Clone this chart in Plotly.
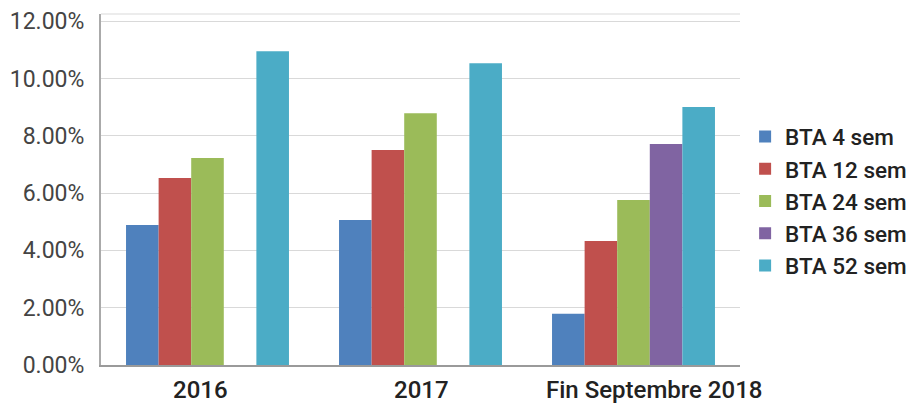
import plotly.graph_objects as go

categories = ["2016", "2017", "Fin Septembre 2018"]
series_names = ["BTA 4 sem", "BTA 12 sem", "BTA 24 sem", "BTA 36 sem", "BTA 52 sem"]
bta_4 = [0.0489, 0.0506, 0.0179]
bta_12 = [0.0653, 0.0750, 0.0433]
bta_24 = [0.0722, 0.0879, 0.0576]
bta_36 = [None, None, 0.0771]
bta_52 = [0.1095, 0.1053, 0.0900]
colors = ["#4F81BD", "#C0504D", "#9BBB59", "#8064A2", "#4BACC6"]
label_xshift = [-7, 1, 20]

fig = go.Figure()
for name, vals, col in zip(series_names, [bta_4, bta_12, bta_24, bta_36, bta_52], colors):
    fig.add_trace(go.Bar(x=categories, y=vals, name=name, marker_color=col, marker_line_width=0))

for i, (cat, dx) in enumerate(zip(categories, label_xshift)):
    fig.add_annotation(x=i, y=0, xref="x", yref="y", text=cat, showarrow=False,
                       xanchor="center", yanchor="middle", xshift=dx, yshift=-25,
                       font=dict(family="Roboto", size=24, color="#222", weight=500))

# light top border of the plot area
fig.add_shape(type="line", xref="paper", yref="paper", x0=0, x1=1, y0=1, y1=1,
              line=dict(color="#d9d9d9", width=1))

fig.update_layout(
    width=912, height=397,
    margin=dict(l=93, r=180, t=6, b=40, autoexpand=False),
    barmode="group", bargap=0.235, bargroupgap=0,
    plot_bgcolor="white", paper_bgcolor="white",
    font=dict(family="Roboto", color="#333"),
    legend=dict(x=1.008, xanchor="left", y=0.466, yanchor="middle",
                font=dict(family="Roboto", size=22.5, color="#222", weight=500),
                itemwidth=30, tracegroupgap=0),
    xaxis=dict(type="category", range=[-0.5, 2.5],
               showline=True, linecolor="#9a9a9a", linewidth=2, ticks="",
               automargin=False, showticklabels=False),
    yaxis=dict(range=[0, 0.1225], tickvals=[0, 0.02, 0.04, 0.06, 0.08, 0.10, 0.12],
               tickformat=".2%",
               showgrid=True, gridcolor="#d9d9d9", gridwidth=1,
               showline=True, linecolor="#aaa", linewidth=2,
               zeroline=False, ticks="", automargin=False,
               ticklabelstandoff=10,
               tickfont=dict(family="Roboto", size=23, color="#444")),
)
fig.write_html("out.html")
